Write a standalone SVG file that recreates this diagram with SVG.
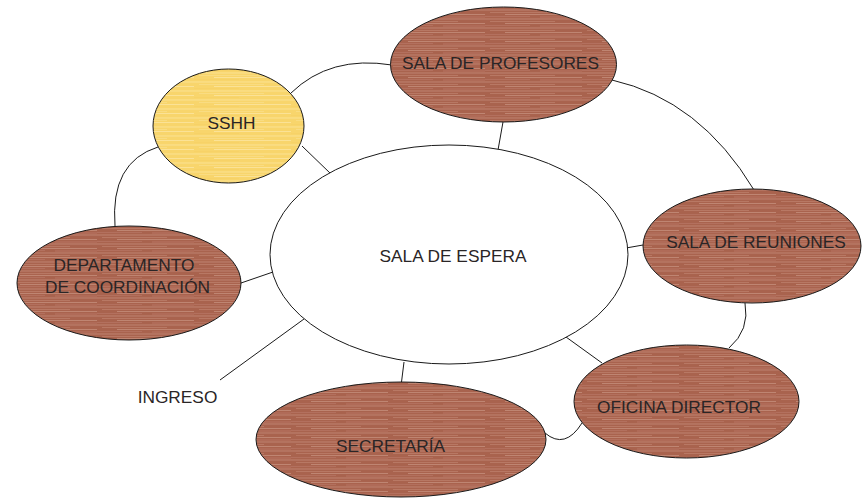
<svg xmlns="http://www.w3.org/2000/svg" width="862" height="499" viewBox="0 0 862 499">
<defs>
<pattern id="wood" patternUnits="userSpaceOnUse" width="97" height="9">
<rect width="97" height="9" fill="#a9634e"/>
<line x1="0" y1="1" x2="97" y2="1" stroke="#c48a77" stroke-width="0.8"/>
<line x1="5" y1="3.5" x2="70" y2="3.5" stroke="#ba7a66" stroke-width="0.9"/>
<line x1="20" y1="5.5" x2="97" y2="5.5" stroke="#c99481" stroke-width="0.7"/>
<line x1="0" y1="7.5" x2="45" y2="7.5" stroke="#b47260" stroke-width="0.9"/>
<line x1="55" y1="8" x2="97" y2="8" stroke="#bd806d" stroke-width="0.6"/>
</pattern>
<pattern id="sand" patternUnits="userSpaceOnUse" width="97" height="9">
<rect width="97" height="9" fill="#f8d56c"/>
<line x1="0" y1="1" x2="97" y2="1" stroke="#fbe49c" stroke-width="0.8"/>
<line x1="5" y1="3.5" x2="70" y2="3.5" stroke="#f9dc84" stroke-width="0.9"/>
<line x1="20" y1="5.5" x2="97" y2="5.5" stroke="#fce8a8" stroke-width="0.7"/>
<line x1="0" y1="7.5" x2="45" y2="7.5" stroke="#f7d166" stroke-width="0.9"/>
</pattern>
</defs>
<style>
.lnk{fill:none;stroke:#1a1a1a;stroke-width:1}
.node{stroke:#1a1a1a;stroke-width:1}
.brown{fill:url(#wood)}
.yellow{fill:url(#sand)}
.white{fill:#ffffff}
text{font-family:"Liberation Sans",Arial,sans-serif;font-size:17.3px;fill:#2a2526;text-anchor:middle}
</style>
<g id="connectors">
<path class="lnk" d="M291,93 Q330,55 392,65"/>
<path class="lnk" d="M158,147 Q110,162 115,226"/>
<path class="lnk" d="M612,80 Q700,100 754,190"/>
<path class="lnk" d="M745,303 Q750,330 729,348"/>
<path class="lnk" d="M545,433 Q565,450 582,423"/>
<line class="lnk" x1="302" y1="146" x2="331" y2="174"/>
<line class="lnk" x1="241" y1="283" x2="273" y2="272"/>
<line class="lnk" x1="503" y1="122" x2="498" y2="150"/>
<line class="lnk" x1="626" y1="248" x2="643" y2="245"/>
<line class="lnk" x1="566" y1="337" x2="602" y2="363"/>
<line class="lnk" x1="404" y1="362" x2="401.5" y2="382"/>
<line class="lnk" x1="304" y1="319" x2="220" y2="380"/>
</g>
<g id="sala-espera">
<ellipse class="node white" cx="449" cy="254.5" rx="179" ry="109.5"/>
<text x="453" y="262">SALA DE ESPERA</text>
</g>
<g id="sala-profesores">
<ellipse class="node brown" cx="503.5" cy="64.5" rx="113" ry="57.5"/>
<text x="500.5" y="69">SALA DE PROFESORES</text>
</g>
<g id="sshh">
<ellipse class="node yellow" cx="228.5" cy="126" rx="75.5" ry="57"/>
<text x="231.5" y="129">SSHH</text>
</g>
<g id="departamento">
<ellipse class="node brown" cx="129" cy="283" rx="112" ry="57"/>
<text x="124" y="271">DEPARTAMENTO</text>
<text x="127.5" y="293">DE COORDINACIÓN</text>
</g>
<g id="sala-reuniones">
<ellipse class="node brown" cx="752" cy="246" rx="109" ry="57"/>
<text x="756" y="248">SALA DE REUNIONES</text>
</g>
<g id="oficina-director">
<ellipse class="node brown" cx="686.5" cy="401.5" rx="112.5" ry="56.5"/>
<text x="679" y="413">OFICINA DIRECTOR</text>
</g>
<g id="secretaria">
<ellipse class="node brown" cx="401" cy="439.5" rx="145" ry="57.5"/>
<text x="390.5" y="452">SECRETARÍA</text>
</g>
<g id="ingreso">
<text x="177.5" y="403">INGRESO</text>
</g>
</svg>
